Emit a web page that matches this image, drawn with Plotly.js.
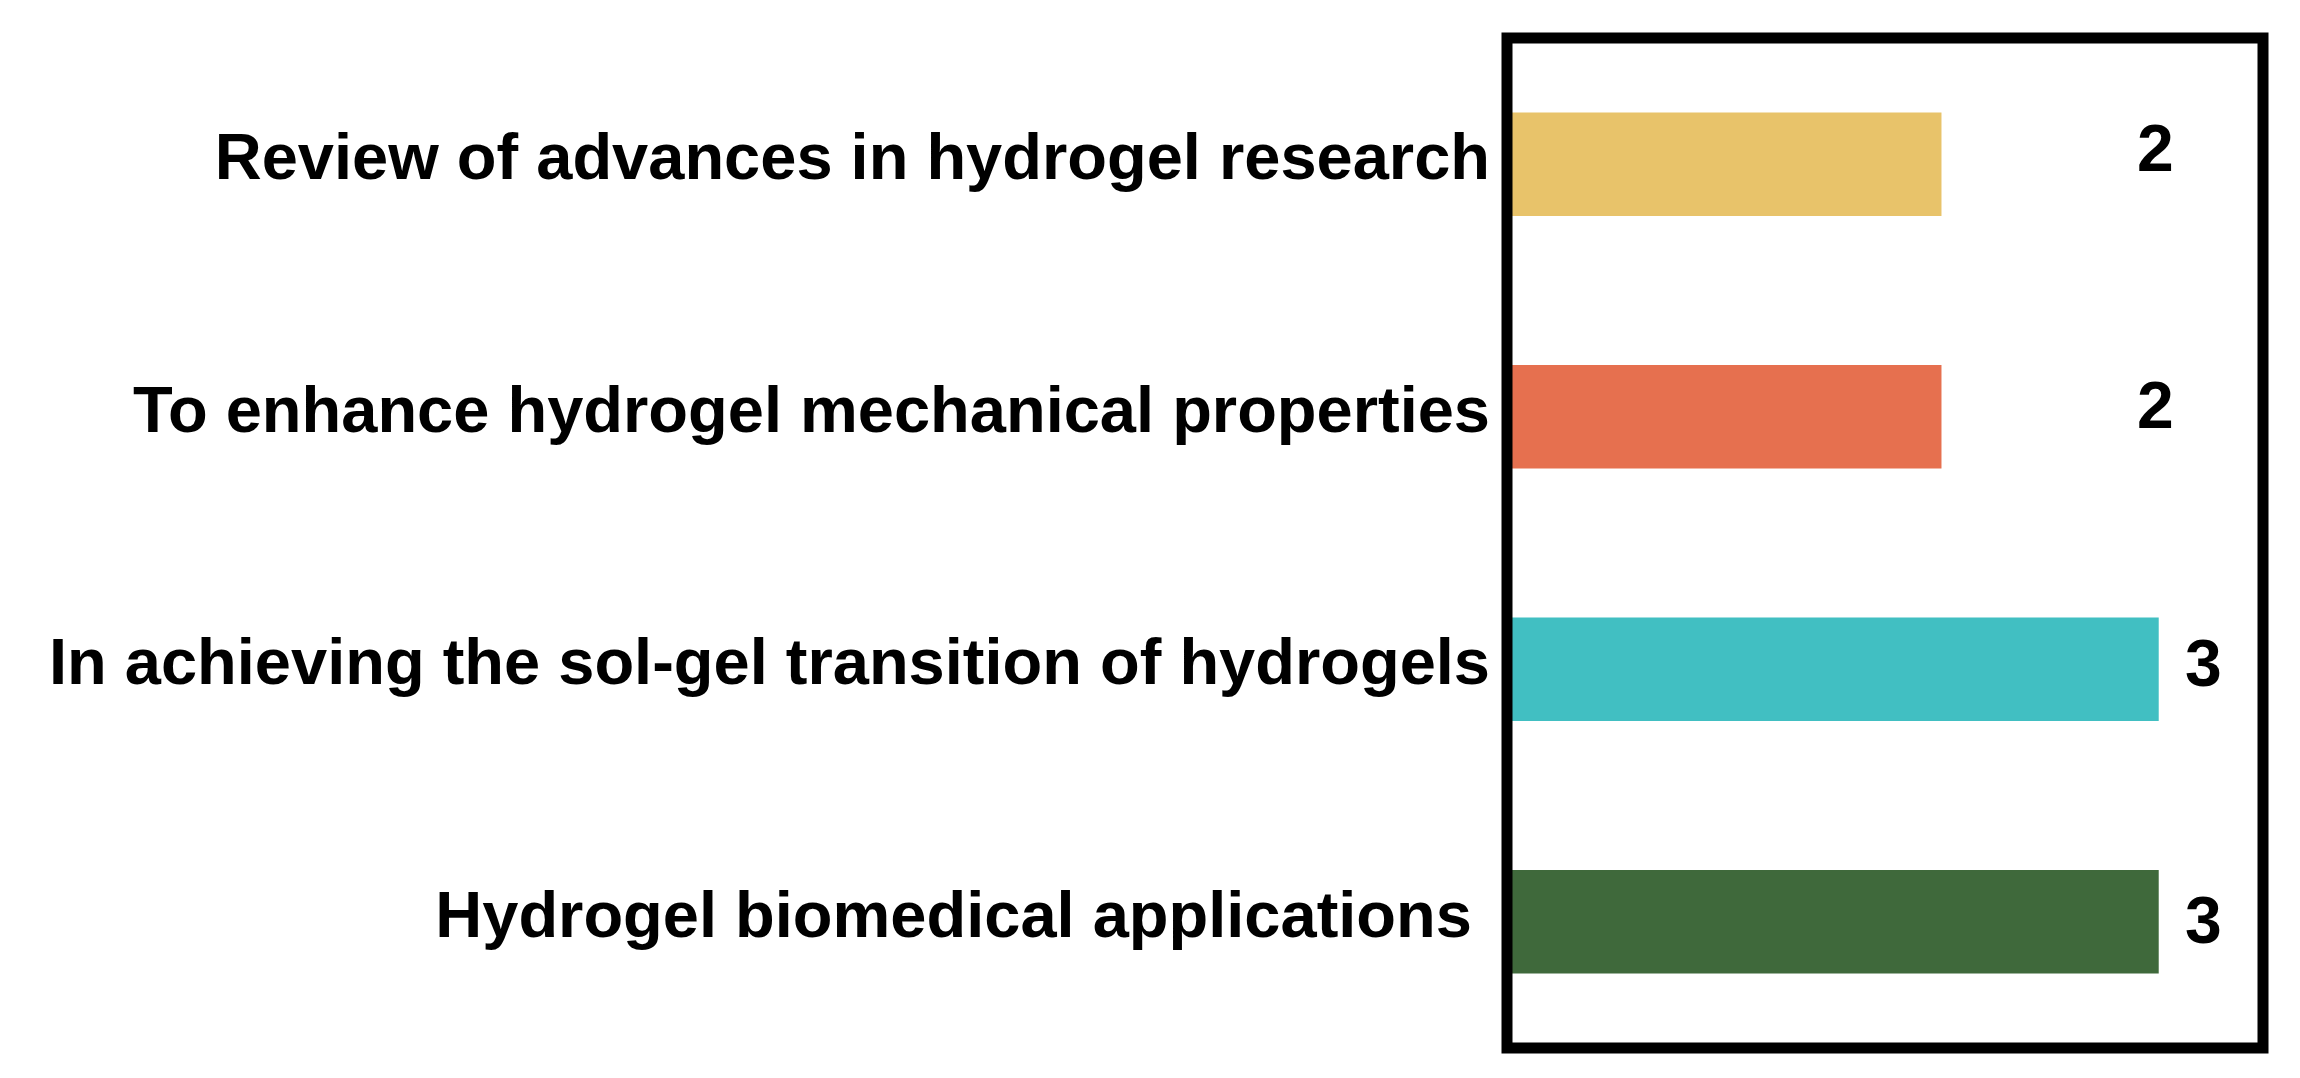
<!DOCTYPE html>
<html>
<head>
<meta charset="utf-8">
<script src="https://cdn.plot.ly/plotly-3.0.1.min.js"></script>
<style>
  html, body { margin: 0; padding: 0; background: #fff; }
  #chart { width: 2300px; height: 1078px; }
</style>
</head>
<body>
<div id="chart"></div>
<script>
// ---- data (top to bottom) ----
const topics = [
    'Review of advances in hydrogel research',
    'To enhance hydrogel mechanical properties',
    'In achieving the sol-gel transition of hydrogels',
    'Hydrogel biomedical applications\u00a0'
];
const counts = [2, 2, 3, 3];
const barColors = ['#E8C36A', '#E6704F', '#41BFC2', '#3F693B'];

// where the value labels sit (x in data units) and vertical nudge in px
const labelX = [2.985, 2.985, 3.205, 3.205];
const labelShift = [16, 12, 6, 2];

const FONT = 'Liberation Sans, Arial, sans-serif';

const trace = {
    type: 'bar',
    orientation: 'h',
    x: counts,
    y: topics,
    width: 0.41,
    marker: { color: barColors, line: { width: 0 } },
    hoverinfo: 'x+y'
};

const annotations = counts.map((v, i) => ({
    x: labelX[i],
    y: topics[i],
    xref: 'x',
    yref: 'y',
    text: String(v),
    showarrow: false,
    yshift: labelShift[i],
    font: { family: FONT, size: 66, color: '#000', weight: 'bold' }
}));

const layout = {
    width: 2300,
    height: 1078,
    margin: { l: 1507, r: 37, t: 38, b: 30, pad: 0 },
    paper_bgcolor: '#fff',
    plot_bgcolor: '#fff',
    showlegend: false,
    xaxis: {
        range: [0, 3.48],
        showgrid: false,
        zeroline: false,
        showline: false,
        showticklabels: false,
        ticks: ''
    },
    yaxis: {
        type: 'category',
        categoryorder: 'array',
        categoryarray: topics,
        range: [3.5, -0.5],
        showgrid: false,
        zeroline: false,
        showline: false,
        ticks: '',
        ticklabelstandoff: 16,
        ticklabelshift: 8,
        tickfont: { family: FONT, size: 65, color: '#000', weight: 'bold' }
    },
    shapes: [{
        type: 'rect',
        xref: 'paper', yref: 'paper',
        x0: 0, x1: 1, y0: 0, y1: 1,
        line: { color: '#000', width: 11 },
        fillcolor: 'rgba(0,0,0,0)',
        layer: 'above'
    }],
    annotations: annotations
};

Plotly.newPlot('chart', [trace], layout, { displayModeBar: false, staticPlot: true });
</script>
</body>
</html>
